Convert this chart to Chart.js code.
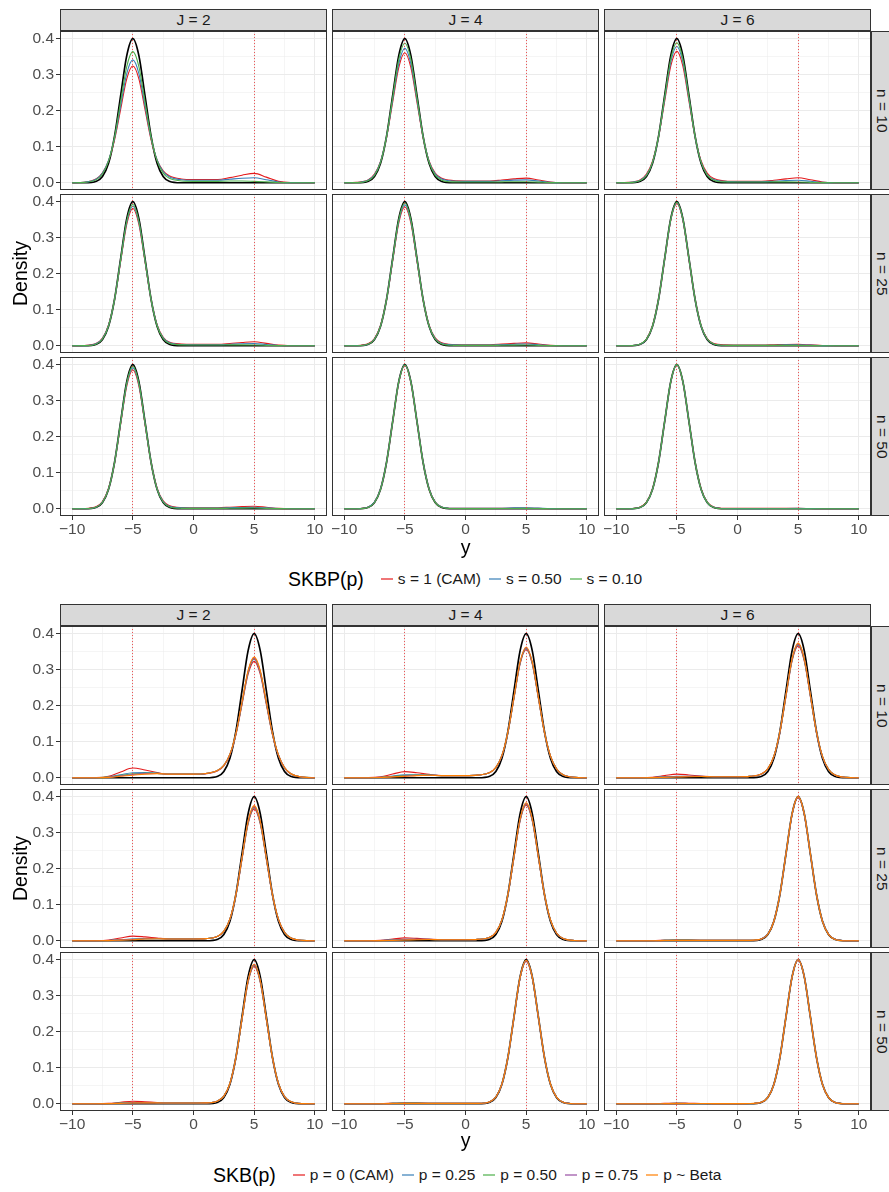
<!DOCTYPE html>
<html>
<head>
<meta charset="utf-8">
<script src="https://cdn.jsdelivr.net/npm/chart.js@4.4.1/dist/chart.umd.min.js"></script>
<style>
  body { margin: 0; background: #fff; width: 889px; height: 1192px; position: relative; overflow: hidden;
         font-family: "Liberation Sans", Arial, Helvetica, sans-serif; }
  canvas { position: absolute; }
  .strip { position: absolute; box-sizing: border-box; background: #d9d9d9; border: 1px solid #333;
           color: #1a1a1a; font-size: 15.5px; display: flex; align-items: center; justify-content: center; }
  .vert { writing-mode: vertical-rl; }
  .title { position: absolute; color: #000; font-size: 19.5px; display: flex; align-items: center; justify-content: center; }
  .legend { position: absolute; display: flex; align-items: center; height: 24px; }
  .legend .ttl { font-size: 19.5px; margin-right: 17px; }
  .legend .key { width: 12px; height: 1.4px; margin-right: 5px; }
  .legend .lab { font-size: 15.5px; margin-right: 8px; color: #1a1a1a; }
</style>
</head>
<body>
<script>
// ---- axis / facet labels ----
const jLabels = ['J = 2', 'J = 4', 'J = 6'];
const nLabels = ['n = 10', 'n = 25', 'n = 50'];
const xGridLines = [-10, -7.5, -5, -2.5, 0, 2.5, 5, 7.5, 10];
const xMajorTicks = [-10, -5, 0, 5, 10];
const xTickLabels = ['\u221210', '\u22125', '0', '5', '10'];
const yGridLines = [0, 0.05, 0.1, 0.15, 0.2, 0.25, 0.3, 0.35, 0.4];
const yMajorTicks = [0, 0.1, 0.2, 0.3, 0.4];
const yTickLabels = ['0.0', '0.1', '0.2', '0.3', '0.4'];
const modeLines = [-5, 5];

const skbpTitle = 'SKBP(p)';
const skbpLabels = ['s = 1 (CAM)', 's = 0.50', 's = 0.10'];
const skbTitle = 'SKB(p)';
const skbLabels = ['p = 0 (CAM)', 'p = 0.25', 'p = 0.50', 'p = 0.75', 'p ~ Beta'];

// ---- density curves, top block (SKBP) ----
const yTop = [-10,-9,-8,-7.5,-7,-6.5,-6,-5.5,-5,-4.5,-4,-3.5,-3,-2.5,-2,-1,0,1,2,3,4,5,6,7,8,10];
const trueTop = [0,.0001,.0044,.0175,.054,.1295,.242,.352,.399,.352,.242,.1295,.054,.0175,.0044,.0001,0,0,0,0,0,0,0,0,0,0];

const skbp_J2_n10_s100 = [0,.0016,.0113,.0275,.0614,.1195,.2035,.2875,.323,.2875,.2035,.1195,.0632,.0329,.0194,.0106,.009,.009,.009,.0142,.021,.026,.0156,.0039,.0005,0];
const skbp_J2_n10_s050 = [0,.0014,.0105,.0269,.0619,.1234,.2132,.3023,.34,.3023,.2132,.1234,.0633,.0311,.0168,.0084,.007,.007,.007,.0098,.0126,.014,.0084,.0021,.0003,0];
const skbp_J2_n10_s010 = [0,.0011,.0087,.0243,.0599,.1271,.2251,.3216,.363,.3216,.2251,.1271,.0607,.0267,.0123,.0051,.004,.004,.004,.0048,.0048,.004,.0024,.0006,.0001,0];
const skbp_J4_n10_s100 = [0,.0011,.0086,.0241,.0594,.126,.2232,.319,.36,.319,.2232,.126,.0604,.0271,.0131,.0061,.005,.005,.005,.0076,.0108,.013,.0078,.002,.0003,0];
const skbp_J4_n10_s050 = [0,.0007,.0078,.0223,.0584,.1276,.2292,.3292,.372,.3292,.2292,.1276,.0592,.0247,.0114,.0047,.004,.004,.004,.0056,.0072,.008,.0048,.0012,.0002,0];
const skbp_J4_n10_s010 = [0,.0004,.0062,.0201,.0564,.1289,.2362,.3412,.386,.3412,.2362,.1289,.0568,.0213,.008,.0024,.002,.002,.002,.0026,.003,.003,.0018,.0005,.0001,0];
const skbp_J6_n10_s100 = [0,.0011,.0087,.0244,.0601,.1274,.2257,.3225,.364,.3225,.2257,.1274,.0609,.0268,.0123,.0051,.004,.004,.004,.0068,.0108,.014,.0084,.0021,.0003,0];
const skbp_J6_n10_s050 = [0,.0008,.0068,.0211,.0573,.1278,.2315,.3333,.377,.3333,.2315,.1278,.0579,.0229,.0095,.0038,.003,.003,.003,.0044,.006,.007,.0042,.0011,.0001,0];
const skbp_J6_n10_s010 = [0,.0004,.0062,.0201,.0565,.1293,.2368,.3421,.387,.3421,.2368,.1293,.0569,.0213,.008,.0024,.002,.002,.002,.0024,.0024,.002,.0012,.0003,0,0];
const skbp_J2_n25_s100 = [0,.0008,.0068,.0213,.0578,.1288,.2333,.3359,.38,.3359,.2333,.1288,.0586,.0237,.0104,.0048,.004,.004,.004,.0062,.009,.011,.0066,.0017,.0002,0];
const skbp_J2_n25_s050 = [0,.0004,.0062,.0201,.0564,.1289,.2362,.3412,.386,.3412,.2362,.1289,.057,.0219,.0089,.0034,.003,.003,.003,.0042,.0054,.006,.0036,.0009,.0001,0];
const skbp_J2_n25_s010 = [0,.0004,.0051,.0188,.0551,.129,.2381,.3453,.391,.3453,.2381,.129,.0555,.02,.0069,.0024,.002,.002,.002,.0024,.0024,.002,.0012,.0003,0,0];
const skbp_J4_n25_s100 = [0,.0004,.0061,.02,.0561,.1283,.235,.3395,.384,.3395,.235,.1283,.0567,.0218,.0088,.0034,.003,.003,.003,.0046,.0066,.008,.0048,.0012,.0002,0];
const skbp_J4_n25_s050 = [0,.0004,.0051,.0187,.055,.1287,.2375,.3444,.39,.3444,.2375,.1287,.0554,.0199,.0069,.0024,.002,.002,.002,.003,.0042,.005,.003,.0008,.0001,0];
const skbp_J4_n25_s010 = [0,.0002,.0047,.0182,.0545,.1292,.2402,.3484,.395,.3484,.2402,.1292,.0547,.0188,.0056,.0012,.001,.001,.001,.0014,.0018,.002,.0012,.0003,0,0];
const skbp_J6_n25_s100 = [0,.0004,.0051,.0189,.0554,.1297,.2393,.347,.393,.347,.2393,.1297,.0558,.0201,.0069,.0024,.002,.002,.002,.0028,.0036,.004,.0024,.0006,.0001,0];
const skbp_J6_n25_s050 = [0,.0002,.0047,.0182,.0545,.1292,.2402,.3484,.395,.3484,.2402,.1292,.0547,.0188,.0056,.0012,.001,.001,.001,.0016,.0024,.003,.0018,.0005,.0001,0];
const skbp_J6_n25_s010 = [0,.0002,.0048,.0183,.0548,.1298,.2414,.3502,.397,.3502,.2414,.1298,.055,.0189,.0057,.0012,.001,.001,.001,.0012,.0012,.001,.0006,.0002,0,0];
const skbp_J2_n50_s100 = [0,.0004,.0061,.02,.0561,.1283,.235,.3395,.384,.3395,.235,.1283,.0567,.0218,.0088,.0034,.003,.003,.003,.0044,.006,.007,.0042,.0011,.0001,0];
const skbp_J2_n50_s050 = [0,.0004,.0051,.0187,.055,.1287,.2375,.3444,.39,.3444,.2375,.1287,.0554,.0199,.0069,.0024,.002,.002,.002,.0028,.0036,.004,.0024,.0006,.0001,0];
const skbp_J2_n50_s010 = [0,.0002,.0047,.0181,.0544,.1288,.2396,.3475,.394,.3475,.2396,.1288,.0546,.0187,.0056,.0012,.001,.001,.001,.0014,.0018,.002,.0012,.0003,0,0];
const skbp_J4_n50_s100 = [0,.0002,.0048,.0182,.0546,.1295,.2408,.3493,.396,.3493,.2408,.1295,.0548,.0188,.0057,.0012,.001,.001,.001,.0014,.0018,.002,.0012,.0003,0,0];
const skbp_J4_n50_s050 = [0,.0002,.0048,.0183,.0548,.1298,.2414,.3502,.397,.3502,.2414,.1298,.055,.0189,.0057,.0012,.001,.001,.001,.0016,.0024,.003,.0018,.0005,.0001,0];
const skbp_J4_n50_s010 = [0,.0001,.0044,.0175,.0537,.1294,.2416,.351,.398,.351,.2416,.1294,.0538,.0178,.0049,.0006,.0005,.0005,.0005,.0007,.0009,.001,.0006,.0002,0,0];
const skbp_J6_n50_s100 = [0,.0002,.0048,.0183,.0548,.1298,.2414,.3502,.397,.3502,.2414,.1298,.055,.0189,.0057,.0012,.001,.001,.001,.0012,.0012,.001,.0006,.0002,0,0];
const skbp_J6_n50_s050 = [0,.0001,.0044,.0175,.0537,.1294,.2416,.351,.398,.351,.2416,.1294,.0538,.0178,.0049,.0006,.0005,.0005,.0005,.0007,.0009,.001,.0006,.0002,0,0];
const skbp_J6_n50_s010 = [0,.0001,.0044,.0176,.0539,.1297,.2422,.3519,.399,.3519,.2422,.1297,.0539,.0176,.0044,.0001,0,0,0,0,0,0,0,0,0,0];

// ---- density curves, bottom block (SKB) ----
const yBottom = [-10,-8,-7,-6,-5,-4,-3,-2,-1,0,1,2,2.5,3,3.5,4,4.5,5,5.5,6,6.5,7,7.5,8,9,10];
const trueBottom = [0,0,0,0,0,0,0,0,0,0,.0001,.0044,.0175,.054,.1295,.242,.352,.399,.352,.242,.1295,.054,.0175,.0044,.0001,0];

const skb_J2_n10_p000 = [0,.0005,.0041,.0162,.027,.0216,.0144,.009,.009,.009,.0106,.0194,.0328,.063,.1191,.2029,.2866,.322,.2866,.2029,.1191,.0612,.0274,.0113,.0016,0];
const skb_J2_n10_p025 = [0,.0003,.0021,.0084,.014,.0144,.0128,.01,.01,.01,.0116,.0205,.0339,.0643,.1214,.2066,.2919,.328,.2919,.2066,.1214,.0623,.0279,.0115,.0016,0];
const skb_J2_n10_p050 = [0,.0002,.0017,.0066,.011,.0126,.0122,.01,.01,.01,.0117,.0206,.0341,.0647,.1221,.2079,.2937,.33,.2937,.2079,.1221,.0627,.0281,.0116,.0017,0];
const skb_J2_n10_p075 = [0,.0002,.0014,.0054,.009,.0114,.0118,.01,.01,.01,.0117,.0206,.0341,.0649,.1225,.2085,.2946,.331,.2946,.2085,.1225,.0629,.0281,.0116,.0017,0];
const skb_J2_n10_pBeta = [0,.0001,.0011,.0042,.007,.0102,.0114,.01,.01,.01,.0117,.0207,.0344,.0655,.1236,.2104,.2973,.334,.2973,.2104,.1236,.0635,.0284,.0117,.0017,0];
const skb_J4_n10_p000 = [0,.0003,.0026,.0102,.017,.0138,.0094,.006,.006,.006,.0072,.0143,.0281,.0608,.125,.2205,.3149,.355,.3149,.2205,.125,.0596,.0245,.0089,.0012,0];
const skb_J4_n10_p025 = [0,.0002,.0012,.0048,.008,.0084,.0076,.006,.006,.006,.0072,.0144,.0283,.0613,.126,.2223,.3175,.358,.3175,.2223,.126,.0601,.0247,.009,.0012,0];
const skb_J4_n10_p050 = [0,.0001,.0009,.0036,.006,.0072,.0072,.006,.006,.006,.0072,.0144,.0284,.0615,.1264,.2229,.3184,.359,.3184,.2229,.1264,.0603,.0248,.009,.0012,0];
const skb_J4_n10_p075 = [0,.0001,.0008,.003,.005,.0066,.007,.006,.006,.006,.0072,.0144,.0284,.0617,.1267,.2236,.3193,.36,.3193,.2236,.1267,.0605,.0248,.009,.0012,0];
const skb_J4_n10_pBeta = [0,.0001,.0006,.0024,.004,.006,.0068,.006,.006,.006,.0072,.0145,.0286,.062,.1274,.2248,.3211,.362,.3211,.2248,.1274,.0608,.025,.0091,.0012,0];
const skb_J6_n10_p000 = [0,.0002,.0015,.006,.01,.0078,.005,.003,.003,.003,.0039,.0107,.0248,.059,.1259,.2252,.3234,.365,.3234,.2252,.1259,.0584,.023,.008,.0009,0];
const skb_J6_n10_p025 = [0,.0001,.0006,.0024,.004,.0042,.0038,.003,.003,.003,.004,.0108,.025,.0595,.127,.2271,.326,.368,.326,.2271,.127,.0589,.0232,.0081,.001,0];
const skb_J6_n10_p050 = [0,.0001,.0005,.0018,.003,.0036,.0036,.003,.003,.003,.004,.0108,.0251,.0598,.1277,.2283,.3278,.37,.3278,.2283,.1277,.0592,.0233,.0081,.001,0];
const skb_J6_n10_p075 = [0,.0001,.0005,.0018,.003,.0036,.0036,.003,.003,.003,.004,.0109,.0252,.06,.128,.2289,.3287,.371,.3287,.2289,.128,.0594,.0234,.0082,.001,0];
const skb_J6_n10_pBeta = [0,0,.0003,.0012,.002,.003,.0034,.003,.003,.003,.004,.0109,.0253,.0603,.1287,.2301,.3305,.373,.3305,.2301,.1287,.0597,.0235,.0082,.001,0];
const skb_J2_n25_p000 = [0,.0003,.002,.0078,.013,.0108,.0076,.005,.005,.005,.0059,.0125,.026,.0594,.1259,.2252,.3234,.365,.3234,.2252,.1259,.0584,.023,.008,.0009,0];
const skb_J2_n25_p025 = [0,.0001,.0008,.003,.005,.006,.006,.005,.005,.005,.006,.0126,.0262,.06,.1273,.2277,.3269,.369,.3269,.2277,.1273,.059,.0232,.0081,.001,0];
const skb_J2_n25_p050 = [0,.0001,.0006,.0024,.004,.0054,.0058,.005,.005,.005,.006,.0126,.0263,.0602,.1277,.2283,.3278,.37,.3278,.2283,.1277,.0592,.0233,.0081,.001,0];
const skb_J2_n25_p075 = [0,.0001,.0006,.0024,.004,.0054,.0058,.005,.005,.005,.006,.0127,.0264,.0605,.1283,.2295,.3296,.372,.3296,.2295,.1283,.0595,.0234,.0082,.001,0];
const skb_J2_n25_pBeta = [0,.0001,.0005,.0018,.003,.0048,.0056,.005,.005,.005,.006,.0127,.0266,.0608,.129,.2308,.3314,.374,.3314,.2308,.129,.0598,.0236,.0082,.001,0];
const skb_J4_n25_p000 = [0,.0002,.0012,.0048,.008,.0066,.0046,.003,.003,.003,.0038,.0095,.0228,.0576,.1271,.2303,.3315,.375,.3315,.2303,.1271,.057,.021,.0068,.0008,0];
const skb_J4_n25_p025 = [0,.0001,.0006,.0024,.004,.0042,.0038,.003,.003,.003,.0038,.0095,.023,.0581,.1281,.2321,.3342,.378,.3342,.2321,.1281,.0575,.0212,.0068,.0008,0];
const skb_J4_n25_p050 = [0,.0001,.0005,.0018,.003,.0036,.0036,.003,.003,.003,.0038,.0095,.023,.0582,.1285,.2327,.335,.379,.335,.2327,.1285,.0576,.0212,.0068,.0008,0];
const skb_J4_n25_p075 = [0,.0001,.0005,.0018,.003,.0036,.0036,.003,.003,.003,.0038,.0095,.0231,.0584,.1288,.2333,.3359,.38,.3359,.2333,.1288,.0578,.0213,.0068,.0008,0];
const skb_J4_n25_pBeta = [0,0,.0003,.0012,.002,.003,.0034,.003,.003,.003,.0038,.0096,.0232,.0587,.1295,.2345,.3377,.382,.3377,.2345,.1295,.0581,.0214,.0069,.0008,0];
const skb_J6_n25_p000 = [0,.0001,.0005,.0018,.003,.0024,.0016,.001,.001,.001,.0012,.0057,.0188,.0548,.1295,.2408,.3493,.396,.3493,.2408,.1295,.0546,.0182,.0048,.0002,0];
const skb_J6_n25_p025 = [0,0,.0003,.0012,.002,.0018,.0014,.001,.001,.001,.0012,.0057,.0189,.055,.1298,.2414,.3502,.397,.3502,.2414,.1298,.0548,.0183,.0048,.0002,0];
const skb_J6_n25_p050 = [0,0,.0003,.0012,.002,.0018,.0014,.001,.001,.001,.0012,.0057,.0189,.0551,.1301,.242,.351,.398,.351,.242,.1301,.0549,.0183,.0048,.0002,0];
const skb_J6_n25_p075 = [0,0,.0002,.0006,.001,.0012,.0012,.001,.001,.001,.0012,.0057,.0189,.0551,.1301,.242,.351,.398,.351,.242,.1301,.0549,.0183,.0048,.0002,0];
const skb_J6_n25_pBeta = [0,0,.0002,.0006,.001,.0012,.0012,.001,.001,.001,.0011,.0053,.0182,.0541,.1297,.2422,.3519,.399,.3519,.2422,.1297,.0539,.0176,.0044,.0001,0];
const skb_J2_n50_p000 = [0,.0001,.0011,.0042,.007,.0054,.0034,.002,.002,.002,.0024,.0079,.021,.0559,.1269,.2326,.3359,.38,.3359,.2326,.1269,.0555,.0198,.0061,.0004,0];
const skb_J2_n50_p025 = [0,.0001,.0005,.0018,.003,.003,.0026,.002,.002,.002,.0024,.0079,.0211,.0563,.1279,.2344,.3386,.383,.3386,.2344,.1279,.0559,.0199,.0061,.0004,0];
const skb_J2_n50_p050 = [0,.0001,.0005,.0018,.003,.003,.0026,.002,.002,.002,.0024,.0079,.0212,.0565,.1283,.235,.3395,.384,.3395,.235,.1283,.0561,.02,.0061,.0004,0];
const skb_J2_n50_p075 = [0,0,.0003,.0012,.002,.0024,.0024,.002,.002,.002,.0024,.008,.0212,.0566,.1286,.2356,.3403,.385,.3403,.2356,.1286,.0562,.02,.0062,.0004,0];
const skb_J2_n50_pBeta = [0,0,.0003,.0012,.002,.0024,.0024,.002,.002,.002,.0024,.008,.0213,.0568,.1289,.2362,.3412,.386,.3412,.2362,.1289,.0564,.0201,.0062,.0004,0];
const skb_J4_n50_p000 = [0,.0001,.0005,.0018,.003,.0024,.0016,.001,.001,.001,.0012,.0056,.0187,.0546,.1288,.2396,.3475,.394,.3475,.2396,.1288,.0544,.0181,.0047,.0002,0];
const skb_J4_n50_p025 = [0,0,.0003,.0012,.002,.0018,.0014,.001,.001,.001,.0012,.0056,.0188,.0547,.1292,.2402,.3484,.395,.3484,.2402,.1292,.0545,.0182,.0047,.0002,0];
const skb_J4_n50_p050 = [0,0,.0003,.0012,.002,.0018,.0014,.001,.001,.001,.0012,.0057,.0188,.0548,.1295,.2408,.3493,.396,.3493,.2408,.1295,.0546,.0182,.0048,.0002,0];
const skb_J4_n50_p075 = [0,0,.0002,.0006,.001,.0012,.0012,.001,.001,.001,.0012,.0057,.0188,.0548,.1295,.2408,.3493,.396,.3493,.2408,.1295,.0546,.0182,.0048,.0002,0];
const skb_J4_n50_pBeta = [0,0,.0002,.0006,.001,.0012,.0012,.001,.001,.001,.0012,.0057,.0189,.055,.1298,.2414,.3502,.397,.3502,.2414,.1298,.0548,.0183,.0048,.0002,0];
const skb_J6_n50_p000 = [0,0,.0003,.0012,.002,.0015,.0009,.0005,.0005,.0005,.0006,.0049,.0178,.0538,.1294,.2416,.351,.398,.351,.2416,.1294,.0537,.0175,.0044,.0001,0];
const skb_J6_n50_p025 = [0,0,.0002,.0006,.001,.0009,.0007,.0005,.0005,.0005,.0006,.0049,.0178,.0538,.1294,.2416,.351,.398,.351,.2416,.1294,.0537,.0175,.0044,.0001,0];
const skb_J6_n50_p050 = [0,0,.0002,.0006,.001,.0009,.0007,.0005,.0005,.0005,.0006,.0049,.0179,.054,.1297,.2422,.3519,.399,.3519,.2422,.1297,.0539,.0176,.0044,.0001,0];
const skb_J6_n50_p075 = [0,0,.0001,.0003,.0005,.0006,.0006,.0005,.0005,.0005,.0006,.0049,.0179,.054,.1297,.2422,.3519,.399,.3519,.2422,.1297,.0539,.0176,.0044,.0001,0];
const skb_J6_n50_pBeta = [0,0,.0001,.0003,.0005,.0006,.0006,.0005,.0005,.0005,.0006,.0048,.0178,.0539,.1296,.242,.3515,.3985,.3515,.242,.1296,.0538,.0176,.0044,.0001,0];

// facet tables, rows = n, columns = J
const skbpFacets = [
  [[skbp_J2_n10_s100, skbp_J2_n10_s050, skbp_J2_n10_s010], [skbp_J4_n10_s100, skbp_J4_n10_s050, skbp_J4_n10_s010], [skbp_J6_n10_s100, skbp_J6_n10_s050, skbp_J6_n10_s010]],
  [[skbp_J2_n25_s100, skbp_J2_n25_s050, skbp_J2_n25_s010], [skbp_J4_n25_s100, skbp_J4_n25_s050, skbp_J4_n25_s010], [skbp_J6_n25_s100, skbp_J6_n25_s050, skbp_J6_n25_s010]],
  [[skbp_J2_n50_s100, skbp_J2_n50_s050, skbp_J2_n50_s010], [skbp_J4_n50_s100, skbp_J4_n50_s050, skbp_J4_n50_s010], [skbp_J6_n50_s100, skbp_J6_n50_s050, skbp_J6_n50_s010]]
];
const skbFacets = [
  [[skb_J2_n10_p000, skb_J2_n10_p025, skb_J2_n10_p050, skb_J2_n10_p075, skb_J2_n10_pBeta], [skb_J4_n10_p000, skb_J4_n10_p025, skb_J4_n10_p050, skb_J4_n10_p075, skb_J4_n10_pBeta], [skb_J6_n10_p000, skb_J6_n10_p025, skb_J6_n10_p050, skb_J6_n10_p075, skb_J6_n10_pBeta]],
  [[skb_J2_n25_p000, skb_J2_n25_p025, skb_J2_n25_p050, skb_J2_n25_p075, skb_J2_n25_pBeta], [skb_J4_n25_p000, skb_J4_n25_p025, skb_J4_n25_p050, skb_J4_n25_p075, skb_J4_n25_pBeta], [skb_J6_n25_p000, skb_J6_n25_p025, skb_J6_n25_p050, skb_J6_n25_p075, skb_J6_n25_pBeta]],
  [[skb_J2_n50_p000, skb_J2_n50_p025, skb_J2_n50_p050, skb_J2_n50_p075, skb_J2_n50_pBeta], [skb_J4_n50_p000, skb_J4_n50_p025, skb_J4_n50_p050, skb_J4_n50_p075, skb_J4_n50_pBeta], [skb_J6_n50_p000, skb_J6_n50_p025, skb_J6_n50_p050, skb_J6_n50_p075, skb_J6_n50_pBeta]]
];

// ---- styling / layout ----
const setColors = ['#E41A1C', '#377EB8', '#4DAF4A', '#984EA3', '#FF7F00'];
const FONT = '"Liberation Sans", Arial, Helvetica, sans-serif';
const COL_LEFT = [60, 332, 604];
const PANEL_W = 267, PANEL_H = 159;
const Y_AXIS_W = 60, X_AXIS_H = 22;

Chart.defaults.font.family = FONT;

// panel border + dotted reference lines at the two modes
const panelPlugin = {
  id: 'panelDecor',
  afterDatasetsDraw(chart) {
    const a = chart.chartArea, ctx = chart.ctx, x = chart.scales.x;
    ctx.save();
    ctx.strokeStyle = 'rgba(236,60,60,0.85)';
    ctx.lineWidth = 1;
    ctx.setLineDash([1, 2]);
    modeLines.forEach(m => {
      // same pixel snapping as the grid lines so the dots sit on the grid line
      const px = Math.round(x.getPixelForValue(m) - 0.5) + 0.5;
      ctx.beginPath();
      ctx.moveTo(px, a.top);
      ctx.lineTo(px, a.bottom);
      ctx.stroke();
    });
    ctx.restore();
  },
  afterDraw(chart) {
    const a = chart.chartArea, ctx = chart.ctx;
    ctx.save();
    ctx.strokeStyle = '#333333';
    ctx.lineWidth = 1;
    ctx.strokeRect(a.left + 0.5, a.top + 0.5, a.right - a.left - 1, a.bottom - a.top - 1);
    ctx.restore();
  }
};

function noPad(a) { a.paddingTop = 0; a.paddingBottom = 0; a.paddingLeft = 0; a.paddingRight = 0; }

function makePanel(left, top, showY, showX, xs, trueCurve, curves) {
  const w = PANEL_W + (showY ? Y_AXIS_W : 0);
  const h = PANEL_H + (showX ? X_AXIS_H : 0);
  const cv = document.createElement('canvas');
  cv.width = w; cv.height = h;
  cv.style.left = (left - (showY ? Y_AXIS_W : 0)) + 'px';
  cv.style.top = top + 'px';
  cv.style.width = w + 'px';
  cv.style.height = h + 'px';
  document.body.appendChild(cv);

  const pts = arr => arr.map((v, i) => ({ x: xs[i], y: v }));
  const datasets = [];
  curves.forEach((c, i) => datasets.push({
    data: pts(c), borderColor: setColors[i], borderWidth: 1.1,
    pointRadius: 0, cubicInterpolationMode: 'monotone', order: 10 - i
  }));
  datasets.push({
    data: pts(trueCurve), borderColor: '#000000', borderWidth: 1.7,
    pointRadius: 0, cubicInterpolationMode: 'monotone', order: 20
  });

  new Chart(cv, {
    type: 'line',
    data: { datasets },
    plugins: [panelPlugin],
    options: {
      responsive: false, animation: false, devicePixelRatio: 1, events: [],
      layout: { padding: 0 },
      plugins: { legend: { display: false }, tooltip: { enabled: false } },
      scales: {
        x: {
          type: 'linear', min: -11, max: 11,
          afterBuildTicks: a => { a.ticks = xGridLines.map(v => ({ value: v })); },
          afterFit: a => { a.height = showX ? X_AXIS_H : 0; noPad(a); },
          border: { display: false },
          grid: {
            color: '#EBEBEB',
            lineWidth: c => xMajorTicks.includes(c.tick.value) ? 1 : 0.5,
            drawTicks: showX, tickLength: 4, tickWidth: 1,
            tickColor: c => xMajorTicks.includes(c.tick.value) ? '#333333' : 'rgba(0,0,0,0)'
          },
          ticks: {
            display: showX, autoSkip: false, maxRotation: 0, padding: 0,
            color: '#4D4D4D', font: { size: 15.5 },
            callback: v => { const k = xMajorTicks.indexOf(v); return k >= 0 ? xTickLabels[k] : ''; }
          }
        },
        y: {
          type: 'linear', min: -0.02, max: 0.42,
          afterBuildTicks: a => { a.ticks = yGridLines.map(v => ({ value: v })); },
          afterFit: a => { a.width = showY ? Y_AXIS_W : 0; noPad(a); },
          border: { display: false },
          grid: {
            color: '#EBEBEB',
            lineWidth: c => yMajorTicks.includes(c.tick.value) ? 1 : 0.5,
            drawTicks: showY, tickLength: 4, tickWidth: 1,
            tickColor: c => yMajorTicks.includes(c.tick.value) ? '#333333' : 'rgba(0,0,0,0)'
          },
          ticks: {
            display: showY, autoSkip: false, padding: 2,
            color: '#4D4D4D', font: { size: 15.5 },
            callback: v => { const k = yMajorTicks.indexOf(v); return k >= 0 ? yTickLabels[k] : ''; }
          }
        }
      }
    }
  });
}

function addDiv(cls, css, html) {
  const d = document.createElement('div');
  d.className = cls;
  d.style.cssText = css;
  d.innerHTML = html;
  document.body.appendChild(d);
  return d;
}

function makeBlock(stripTop, rowTops, facets, xs, trueCurve, legendTitle, legendLabels, legendLeft, legendTop, xTitleTop) {
  // column strips
  jLabels.forEach((lab, c) => addDiv('strip', `left:${COL_LEFT[c]}px;top:${stripTop}px;width:${PANEL_W}px;height:${rowTops[0] - stripTop}px;`, lab));
  // row strips
  nLabels.forEach((lab, r) => addDiv('strip', `left:${COL_LEFT[2] + PANEL_W}px;top:${rowTops[r]}px;width:22px;height:${PANEL_H}px;`, `<span class="vert">${lab}</span>`));
  // panels
  facets.forEach((row, r) => row.forEach((curves, c) => {
    makePanel(COL_LEFT[c], rowTops[r], c === 0, r === 2, xs, trueCurve, curves);
  }));
  // axis titles
  const bottom = rowTops[2] + PANEL_H;
  addDiv('title', `left:6px;top:${rowTops[0]}px;width:28px;height:${bottom - rowTops[0]}px;`,
    '<span style="writing-mode:vertical-rl;transform:rotate(180deg)">Density</span>');
  addDiv('title', `left:${COL_LEFT[0]}px;top:${xTitleTop}px;width:${COL_LEFT[2] + PANEL_W - COL_LEFT[0]}px;height:22px;`, 'y');
  // legend
  let html = `<span class="ttl">${legendTitle}</span>`;
  legendLabels.forEach((lab, i) => {
    html += `<span class="key" style="background:${setColors[i]};opacity:0.6"></span><span class="lab">${lab}</span>`;
  });
  addDiv('legend', `left:${legendLeft}px;top:${legendTop}px;`, html);
}

makeBlock(9, [31, 194, 357], skbpFacets, yTop, trueTop, skbpTitle, skbpLabels, 288, 567, 536);
makeBlock(604, [626, 789, 952], skbFacets, yBottom, trueBottom, skbTitle, skbLabels, 213, 1163, 1129);
</script>
</body>
</html>
